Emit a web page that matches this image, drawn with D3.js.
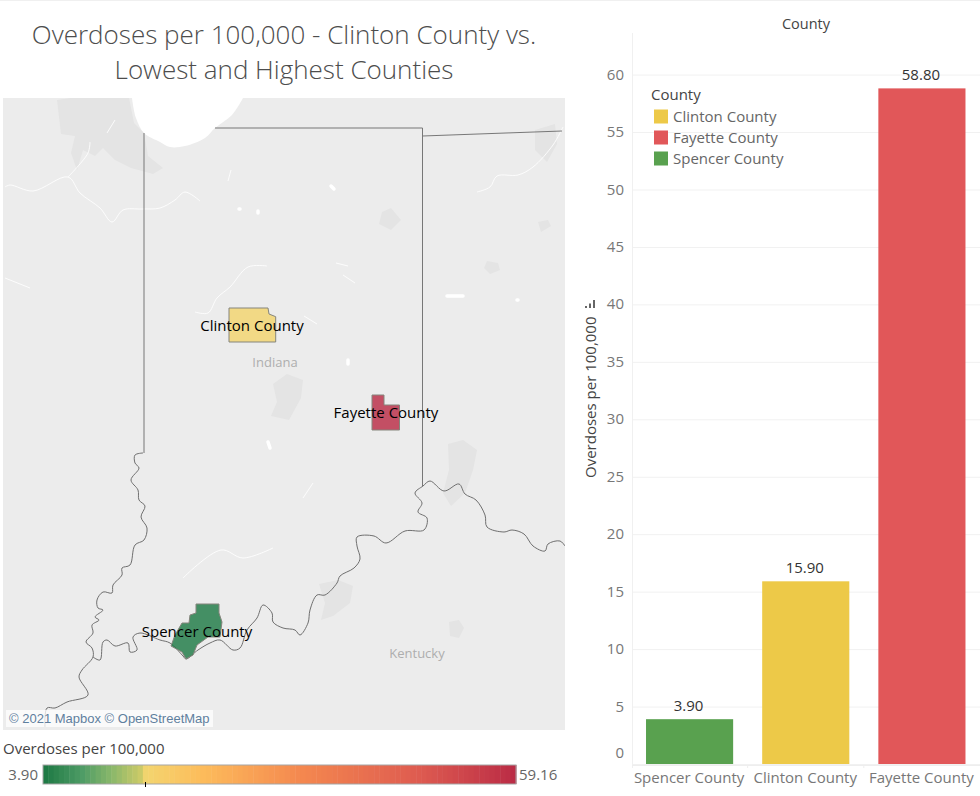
<!DOCTYPE html>
<html><head><meta charset="utf-8">
<script src="https://d3js.org/d3.v7.min.js"></script>
<style>
html,body{margin:0;padding:0;background:#fff;overflow:hidden}
svg{display:block}
text{font-family:"Open Sans",sans-serif}
</style></head><body><svg id="c" width="980" height="796"></svg>
<script>
// ---- bar data
const counties=["Spencer County","Clinton County","Fayette County"];
const values=[3.9,15.9,58.8];
const valueLabels=["3.90","15.90","58.80"];
const barColors=["#59a14f","#edc948","#e15759"];
const legendOrder=["Clinton County","Fayette County","Spencer County"];
const legendColors=["#edc948","#e15759","#59a14f"];
const yTicks=d3.range(0,65,5);
// ---- colour legend data
const rampValues=[3.9,8.2,11.7,15.2,15.6,22.2,33.9,47.9,59.16];
const rampColors=["#1f7a45","#4f9c66","#8cb86a","#cfcb68","#f3d56f","#fdbc5b","#f4874f","#dd5a50","#b92a45"];
const rampLabels=["3.90","59.16"];
const markedValue=15.9;
// ---- map geometry, in map-tile units
const lake=[[129,0],[133,20],[141,35],[157,44],[167,49],[182,48],[202,40],[212,30],[229,17],[240,0]];
const urbanAreas=[
 [[54,2],[68,0],[126,0],[131,25],[141,35],[145,58],[160,70],[150,76],[128,70],[112,62],[100,50],[92,58],[80,52],[74,72],[68,55],[72,38],[58,36]],
 [[270,286],[284,276],[300,282],[298,300],[286,322],[268,318],[274,304]],
 [[445,346],[460,342],[474,352],[470,372],[462,395],[448,408],[440,395],[446,372]],
 [[316,486],[335,482],[350,488],[347,505],[330,518],[318,522],[322,505]],
 [[379,114],[388,110],[398,122],[388,132],[376,126]],
 [[484,163],[495,165],[497,172],[487,176],[481,170]],
 [[535,124],[545,122],[548,128],[538,134]],
 [[532,32],[552,26],[554,46],[544,64],[532,52]],
 [[446,524],[456,522],[461,530],[456,540],[447,538]]
];
const rivers=[
 [[2,89],[7,87],[30,93],[65,79],[77,95],[97,110],[109,124],[120,112],[139,111],[157,110],[172,102],[182,94],[197,103]],
 [[65,79],[85,55],[87,44]],[[104,35],[112,22]],
 [[192,214],[205,215],[214,200],[227,189],[245,169],[264,168]],
 [[474,94],[487,89],[494,78],[515,77],[530,69],[550,47],[560,29]],
 [[225,83],[228,72]],[[301,218],[314,226]],[[340,177],[352,185]],[[333,165],[345,168]],
 [[2,180],[27,190]],[[180,480],[218,452],[240,460],[270,450]],[[300,400],[310,385]]
];
const lakes=[[444,198,460,198],[514,202,515,202],[236,111,237,111],[255,113,255,115],[328,88,331,91],[345,262,345,266],[265,344,267,350]];
const straightBorders=[
 [[141,35],[141,355]],
 [[212,30],[419.5,30],[419.5,388]],
 [[419.5,38],[559,33]]
];
const riverBorders=[
 [[140,355],[132,357],[132,365],[136,370],[128,382],[135,392],[136,402],[142,408],[138,419],[144,430],[141,442],[132,447],[127,467],[119,470],[119,477],[110,487],[109,495],[100,494],[94,502],[95,510],[100,512],[92,519],[96,522],[89,527],[90,535],[83,544],[89,550],[90,559],[79,572],[76,579],[85,597],[64,604],[52,610],[44,610],[42,629]],
 [[90,559],[97,562],[100,544],[104,542],[112,548],[125,545],[127,554],[134,552],[130,539],[137,535],[157,542],[167,545],[180,558],[183,561],[195,552],[207,545],[217,542],[230,552],[237,550],[244,532],[254,520],[260,507],[269,515],[270,524],[280,530],[292,532],[297,537],[305,525],[307,512],[314,497],[322,497],[334,485],[337,478],[351,470],[357,461],[354,448],[354,439],[371,438],[383,445],[402,433],[421,432],[424,420],[415,414],[419,405],[412,395],[420,388],[427,383],[441,393],[456,386],[462,396],[473,402],[482,417],[484,429],[501,434],[509,432],[521,436],[530,448],[542,453],[545,446],[557,443],[562,448]]
];
const mapPlaces=[{name:"Indiana",p:[272,269]},{name:"Kentucky",p:[414,560]}];
const countyShapes={
 "Clinton County":[[226,210],[265,210],[266,216],[272.7,218.7],[272.7,244],[226,244]],
 "Fayette County":[[369,297],[381,297],[381,307],[396.5,307],[396.5,332],[369,332]],
 "Spencer County":[[193,506],[216,506],[216,515],[219,524],[217,539],[205,539],[194,547],[190,557],[183,561],[179,554],[168,548],[172,537],[179,525],[186,525],[187,517],[193,515]]
};
const countyLabelAt={"Clinton County":[249,233],"Fayette County":[383,320],"Spencer County":[194,539]};
const mapValues={"Clinton County":15.9,"Fayette County":58.8,"Spencer County":3.9};

const svg=d3.select("#c");
svg.append("line").attr("x1",0).attr("x2",980).attr("y1",0.5).attr("y2",0.5).attr("stroke","#f0f0f0");

// title
const title=svg.append("text").attr("text-anchor","middle").attr("fill","#4d4d4d").attr("font-size",26).attr("font-weight",300);
title.append("tspan").attr("x",284).attr("y",44).text("Overdoses per 100,000 - Clinton County vs.");
title.append("tspan").attr("x",284).attr("y",79).text("Lowest and Highest Counties");

// ---- map
const mx=d3.scaleLinear().domain([0,562]).range([3,565]);
const my=d3.scaleLinear().domain([0,632]).range([98,730]);
const line=d3.line().x(d=>mx(d[0])).y(d=>my(d[1]));
const smooth=d3.line().x(d=>mx(d[0])).y(d=>my(d[1])).curve(d3.curveCatmullRom);
const defs=svg.append("defs");
defs.append("clipPath").attr("id","mapclip").append("rect").attr("x",3).attr("y",98).attr("width",562).attr("height",632);
const map=svg.append("g").attr("clip-path","url(#mapclip)");
map.append("rect").attr("x",3).attr("y",98).attr("width",562).attr("height",632).attr("fill","#ececec");
map.selectAll(".u").data(urbanAreas).join("path").attr("fill","#e4e4e4").attr("d",d=>line(d)+"Z");
map.append("path").attr("d",smooth(lake)+"Z").attr("fill","#fff");
map.selectAll(".r").data(rivers).join("path").attr("fill","none").attr("stroke","#fff").attr("stroke-width",1).attr("stroke-opacity",.85).attr("d",d=>smooth(d));
map.selectAll(".l").data(lakes).join("line").attr("stroke","#fff").attr("stroke-width",3.5).attr("stroke-linecap","round")
  .attr("x1",d=>mx(d[0])).attr("y1",d=>my(d[1])).attr("x2",d=>mx(d[2])).attr("y2",d=>my(d[3]));
map.selectAll(".s").data(straightBorders).join("path").attr("fill","none").attr("stroke","#777").attr("stroke-width",1).attr("d",d=>line(d));
map.selectAll(".w").data(riverBorders).join("path").attr("fill","none").attr("stroke","#6f6f6f").attr("stroke-width",1).attr("d",d=>smooth(d));
map.selectAll(".p").data(mapPlaces).join("text").attr("x",d=>mx(d.p[0])).attr("y",d=>my(d.p[1])).attr("text-anchor","middle")
  .attr("fill","#aeaeae").attr("font-size",13).text(d=>d.name);

const ramp=d3.scaleLinear().domain(rampValues).range(rampColors);
const names=Object.keys(countyShapes);
map.selectAll(".c").data(names).join("path").attr("d",d=>line(countyShapes[d])+"Z")
  .attr("fill",d=>ramp(mapValues[d])).attr("fill-opacity",.82).attr("stroke","#85857c").attr("stroke-width",1);
map.selectAll(".cl").data(names).join("text").attr("text-anchor","middle").attr("fill","#000").attr("font-size",15)
  .attr("x",d=>mx(countyLabelAt[d][0])).attr("y",d=>my(countyLabelAt[d][1])).text(d=>d);
map.append("rect").attr("x",6).attr("y",710).attr("width",207).attr("height",17).attr("fill","#fff").attr("fill-opacity",.75);
map.append("text").attr("x",9).attr("y",723).attr("fill","#5f7f9e").attr("font-size",13).style("font-family","Liberation Sans").text("© 2021 Mapbox © OpenStreetMap");

// ---- colour legend
svg.append("text").attr("x",3).attr("y",754).attr("fill","#444").attr("font-size",15).text("Overdoses per 100,000");
const rx=d3.scaleLinear().domain([rampValues[0],rampValues[rampValues.length-1]]).range([43,516]);
const stepCount=90;
const steps=d3.range(stepCount).map(i=>rx.invert(43+i*473/stepCount));
svg.selectAll(".st").data(steps).join("rect").attr("x",d=>rx(d)).attr("y",765).attr("height",19)
  .attr("width",473/stepCount+.5).attr("fill",d=>ramp(d));
svg.append("rect").attr("x",43).attr("y",765).attr("width",473).attr("height",19).attr("fill","none").attr("stroke","#a5a5a5");
svg.append("line").attr("x1",Math.round(rx(markedValue))-.5).attr("x2",Math.round(rx(markedValue))-.5).attr("y1",782).attr("y2",787).attr("stroke","#000");
svg.append("text").attr("x",38).attr("y",780).attr("text-anchor","end").attr("fill","#666").attr("font-size",15).text(rampLabels[0]);
svg.append("text").attr("x",519).attr("y",780).attr("fill","#666").attr("font-size",15).text(rampLabels[1]);

// ---- bars
const y=d3.scaleLinear().domain([0,60]).range([764,74.6]);
const x=d3.scaleBand().domain(counties).range([631.5,980]).paddingInner(0.25).paddingOuter(0.125);
const chart=svg.append("g");
chart.selectAll(".g").data(yTicks).join("line").attr("x1",632).attr("x2",980).attr("y1",d=>y(d)+.5).attr("y2",d=>y(d)+.5).attr("stroke","#f1f1f1");
chart.append("line").attr("x1",632.5).attr("x2",632.5).attr("y1",33).attr("y2",768).attr("stroke","#f0f0f0");
chart.selectAll(".yt").data(yTicks).join("text").attr("x",624).attr("y",d=>(d===0?y(d)-11:y(d))+5).attr("text-anchor","end")
  .attr("fill","#777").attr("font-size",15).text(d=>d);
chart.append("line").attr("x1",632).attr("x2",980).attr("y1",765.5).attr("y2",765.5).attr("stroke","#eee");
chart.selectAll(".sep").data(counties.slice(1)).join("line").attr("x1",d=>x(d)-x.step()*.125).attr("x2",d=>x(d)-x.step()*.125).attr("y1",765).attr("y2",768).attr("stroke","#eee");
chart.selectAll(".b").data(counties).join("rect").attr("x",d=>x(d)).attr("width",x.bandwidth())
  .attr("y",(d,i)=>y(values[i])).attr("height",(d,i)=>y(0)-y(values[i])).attr("fill",(d,i)=>barColors[i]);
chart.selectAll(".v").data(counties).join("text").attr("x",d=>x(d)+x.bandwidth()/2-1).attr("y",(d,i)=>y(values[i])-8).attr("text-anchor","middle")
  .attr("fill","#333").attr("font-size",15).text((d,i)=>valueLabels[i]);
chart.selectAll(".xt").data(counties).join("text").attr("x",d=>x(d)+x.bandwidth()/2-.5).attr("y",783).attr("text-anchor","middle")
  .attr("fill","#777").attr("font-size",15).text(d=>d);
svg.append("text").attr("x",806).attr("y",29).attr("text-anchor","middle").attr("fill","#444").attr("font-size",14.5).text("County");
svg.append("text").attr("transform","translate(596,478) rotate(-90)").attr("fill","#444").attr("font-size",15).text("Overdoses per 100,000");
// sort icon
[[0,2],[1,4.5],[2,8]].forEach(([i,l])=>svg.append("rect").attr("x",585+i*4).attr("y",308-l).attr("width",2).attr("height",l).attr("fill","#666"));

// ---- legend
const lg=svg.append("g");
lg.append("text").attr("x",651).attr("y",100).attr("fill","#444").attr("font-size",15).text("County");
const ly=d3.scaleBand().domain(legendOrder).range([106,169]);
lg.selectAll("rect").data(legendOrder).join("rect").attr("x",654).attr("width",14).attr("height",14)
  .attr("y",d=>ly(d)+3.5).attr("fill",(d,i)=>legendColors[i]);
lg.selectAll(".lt").data(legendOrder).join("text").attr("x",673).attr("y",d=>ly(d)+16).attr("fill","#666").attr("font-size",15).text(d=>d);
</script></body></html>
